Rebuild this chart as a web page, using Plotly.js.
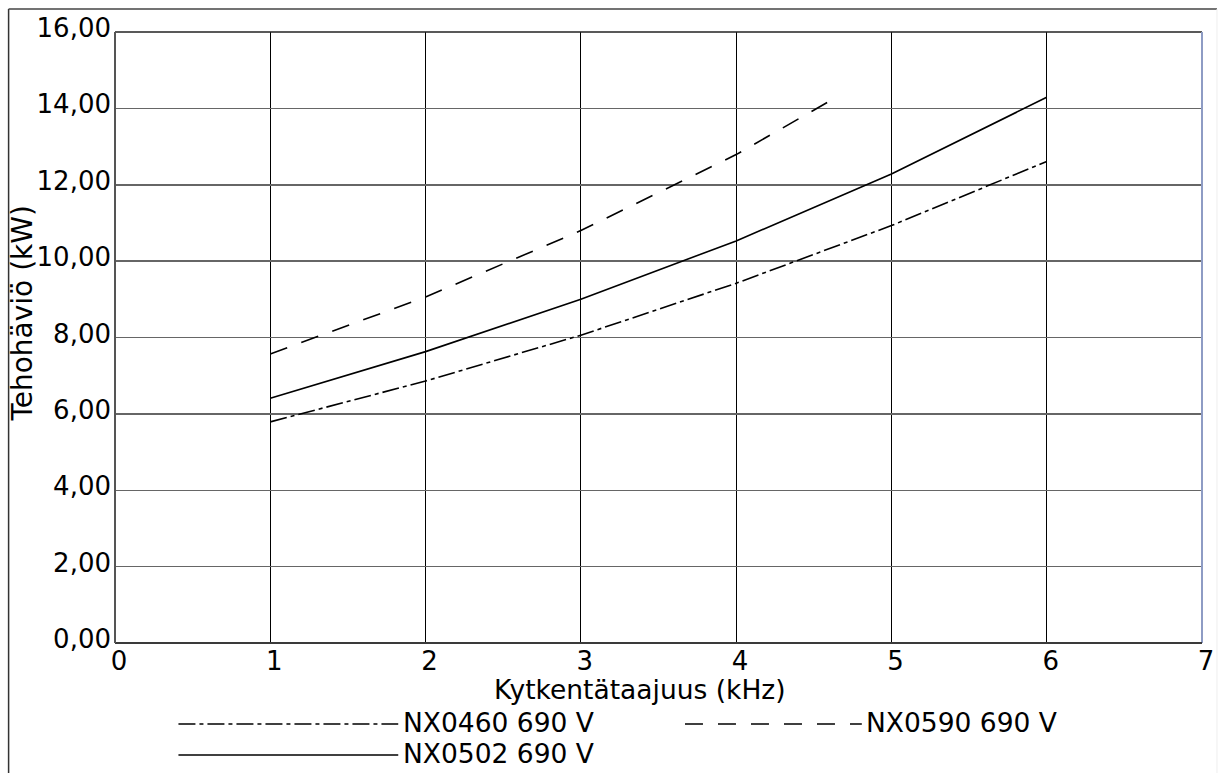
<!DOCTYPE html>
<html>
<head>
<meta charset="utf-8">
<script src="https://cdn.plot.ly/plotly-3.0.1.min.js"></script>
<style>
  html, body { margin: 0; padding: 0; background: #fff; }
  #chart { width: 1219px; height: 773px; }
</style>
</head>
<body>
<div id="chart"></div>
<script>
// ---- data ----
const seriesNames = ["NX0460 690 V", "NX0502 690 V", "NX0590 690 V"];
const freqA = [1, 2, 3, 4, 5, 6];
const lossNX0460 = [5.79, 6.86, 8.06, 9.42, 10.93, 12.61];
const lossNX0502 = [6.41, 7.63, 9.00, 10.53, 12.28, 14.29];
const freqB = [1, 2, 3, 4, 4.61];
const lossNX0590 = [7.57, 9.06, 10.80, 12.79, 14.21];
const xTicks = [0, 1, 2, 3, 4, 5, 6, 7];
const yTicks = [0, 2, 4, 6, 8, 10, 12, 14, 16];
const yTickText = ["0,00", "2,00", "4,00", "6,00", "8,00", "10,00", "12,00", "14,00", "16,00"];
const xTitle = "Kytkentätaajuus (kHz)";
const yTitle = "Tehohäviö (kW)";

// ---- layout geometry ----
const W = 1219, H = 773;
const M = { l: 114.5, r: 16.5, t: 32, b: 130 };
const PW = W - M.l - M.r, PH = H - M.t - M.b;
const px = v => (v - M.l) / PW;          // pixel -> paper x
const py = v => (H - M.b - v) / PH;      // pixel -> paper y

const FONT = "DejaVu Sans, Verdana, sans-serif";
const TXT = 26.5;
const styles = {
  dashdot: "17px,4px,4px,4px",
  dash: "18px,15px",
  solid: "solid"
};

const traces = [
  { x: freqA, y: lossNX0460, name: seriesNames[0], dash: styles.dashdot },
  { x: freqA, y: lossNX0502, name: seriesNames[1], dash: styles.solid },
  { x: freqB, y: lossNX0590, name: seriesNames[2], dash: styles.dash }
].map(s => ({
  type: "scatter", mode: "lines", x: s.x, y: s.y, name: s.name,
  line: { color: "#000", width: 1.6, dash: s.dash },
  showlegend: false, hoverinfo: "x+y+name"
}));

// custom legend (line samples + labels)
const legendItems = [
  { name: seriesNames[0], dash: styles.dashdot, x0: 178, x1: 398, ly: 724, tx: 401, ty: 722 },
  { name: seriesNames[2], dash: styles.dash, x0: 685, x1: 862, ly: 724, tx: 864, ty: 722 },
  { name: seriesNames[1], dash: styles.solid, x0: 178, x1: 398, ly: 755, tx: 401, ty: 753 }
];

const shapes = [];
const annotations = [];
legendItems.forEach(it => {
  shapes.push({
    type: "line", xref: "paper", yref: "paper",
    x0: px(it.x0), x1: px(it.x1), y0: py(it.ly), y1: py(it.ly),
    line: { color: "#000", width: 1.4, dash: it.dash }
  });
  annotations.push({
    xref: "paper", yref: "paper", x: px(it.tx), y: py(it.ty),
    xanchor: "left", yanchor: "middle", showarrow: false,
    text: it.name, font: { family: FONT, size: TXT, color: "#000" }
  });
});

// axis titles
annotations.push({
  xref: "paper", yref: "paper", x: px(640), y: py(689),
  xanchor: "center", yanchor: "middle", showarrow: false,
  text: xTitle, font: { family: FONT, size: TXT, color: "#000" }
});
annotations.push({
  xref: "paper", yref: "paper", x: px(21), y: py(314),
  xanchor: "center", yanchor: "middle", showarrow: false, textangle: -90,
  text: yTitle, font: { family: FONT, size: 28, color: "#000" }
});

// plot borders
shapes.push({ type: "line", xref: "paper", yref: "paper", x0: 0, x1: 1, y0: 1, y1: 1, line: { color: "#222", width: 1.5 } });
shapes.push({ type: "line", xref: "paper", yref: "paper", x0: 1, x1: 1, y0: 0, y1: 1, line: { color: "#8e9cc4", width: 2 } });
shapes.push({ type: "line", xref: "paper", yref: "paper", x0: 0, x1: 1, y0: 0, y1: 0, line: { color: "#3a3a3a", width: 2 } });
shapes.push({ type: "line", xref: "paper", yref: "paper", x0: 0, x1: 0, y0: 0, y1: 1, line: { color: "#555", width: 2 } });

// outer frame
shapes.push({ type: "line", xref: "paper", yref: "paper", x0: px(8), x1: px(8), y0: py(9), y1: py(H + 2), line: { color: "#333", width: 1.5 } });
shapes.push({ type: "line", xref: "paper", yref: "paper", x0: px(8), x1: px(1217.5), y0: py(9), y1: py(9), line: { color: "#444", width: 1.5 } });
shapes.push({ type: "line", xref: "paper", yref: "paper", x0: px(1217.5), x1: px(1217.5), y0: py(9), y1: py(H + 2), line: { color: "#eee", width: 1 } });

const layout = {
  width: W, height: H,
  margin: { l: M.l, r: M.r, t: M.t, b: M.b, pad: 0 },
  paper_bgcolor: "#fff", plot_bgcolor: "#fff",
  font: { family: FONT, size: TXT, color: "#000" },
  showlegend: false,
  xaxis: {
    range: [0, 7], tickvals: xTicks, ticktext: xTicks.map(String),
    showgrid: true, gridcolor: "#000", gridwidth: 1,
    zeroline: false, showline: false, ticks: "",
    tickfont: { family: FONT, size: 26, color: "#000" },
    ticklabelshift: 4, ticklabelstandoff: 0, fixedrange: true
  },
  yaxis: {
    range: [0, 16], tickvals: yTicks, ticktext: yTickText,
    showgrid: true, gridcolor: "#666", gridwidth: 1.5,
    zeroline: false, showline: false, ticks: "",
    tickfont: { family: FONT, size: 26, color: "#000" },
    ticklabelshift: -4, ticklabelstandoff: 3, fixedrange: true
  },
  shapes: shapes,
  annotations: annotations
};

Plotly.newPlot("chart", traces, layout, { displayModeBar: false, staticPlot: true });
</script>
</body>
</html>
